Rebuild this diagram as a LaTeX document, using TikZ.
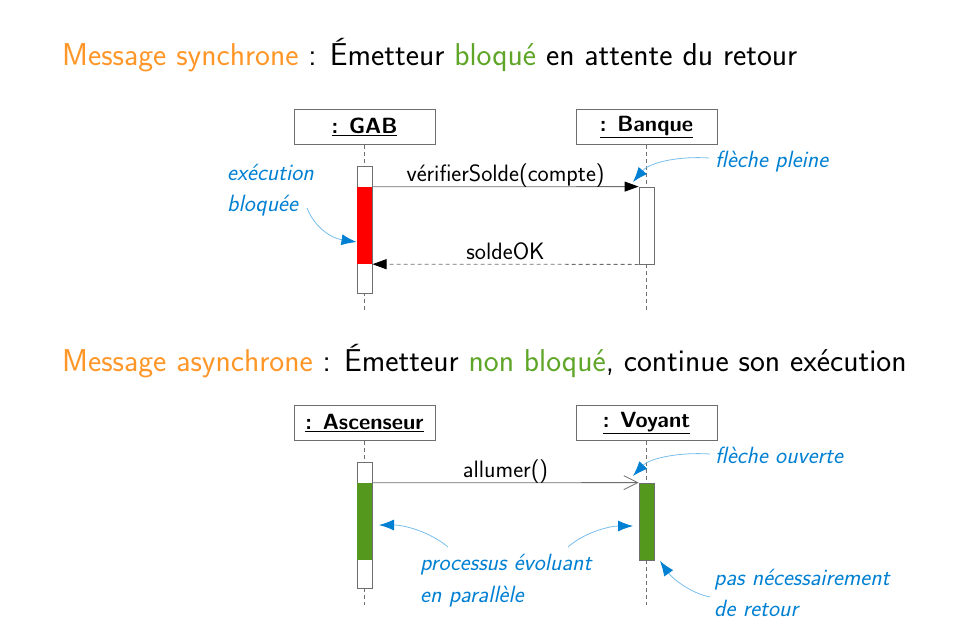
\documentclass[tikz,border=0pt]{standalone}
\usepackage{fontspec}
\usetikzlibrary{arrows.meta}
\definecolor{ttorange}{RGB}{255,150,40}
\definecolor{ttgreen}{RGB}{95,165,40}
\definecolor{actgreen}{RGB}{85,152,30}
\definecolor{noteblue}{RGB}{0,128,210}
\definecolor{linkblue}{RGB}{120,190,235}
\definecolor{boxgray}{RGB}{110,110,110}
\begin{document}
\begin{tikzpicture}[x=1pt,y=-1pt,
  every node/.style={inner sep=0pt},
  obj/.style={draw=boxgray, fill=white, line width=0.8pt, minimum width=141pt, minimum height=35pt,
    font=\fontsize{22}{26}\selectfont\sffamily\bfseries},
  act/.style={draw=boxgray, fill=white, line width=0.8pt, minimum width=15pt},
  life/.style={draw=boxgray, dashed, line width=0.7pt, dash pattern=on 4pt off 3pt},
  msg/.style={draw=boxgray, line width=0.8pt},
  lbl/.style={font=\fontsize{23.7}{28}\selectfont\sffamily, anchor=base, yshift=5pt},
  ttl/.style={font=\fontsize{31.6}{36}\selectfont\sffamily, anchor=base west},
  note/.style={font=\fontsize{23.5}{28}\selectfont\sffamily\itshape, text=noteblue, anchor=base west},
  pointer/.style={draw=linkblue, line width=0.8pt, -{Latex[length=15pt,width=11pt,color=noteblue]}}
]
\useasboundingbox (0,0) rectangle (953,640);

% ---------- Titles ----------
\node[ttl] (t1) at (62,65) {\textcolor{ttorange}{Message synchrone} : Émetteur \textcolor{ttgreen}{bloqué} en attente du retour};
\node[ttl] (t2) at (62,371) {\textcolor{ttorange}{Message asynchrone} : Émetteur \textcolor{ttgreen}{non bloqué}, continue son exécution};

% ---------- Synchronous ----------
\node[obj] (gab) at (364.5,127) {\underline{: GAB}};
\node[obj] (bq) at (646.5,127) {\underline{: Banque}};
\coordinate (gabend) at (364.5,310);
\coordinate (bqend) at (646.5,310);
\draw[life] (gab.south) -- (gabend);
\draw[life] (bq.south) -- (bqend);

\node[act, minimum height=127pt] (gabact) at (364.5,229.5) {};
\node[fill=red, minimum width=15.6pt, minimum height=77pt] (gabblk) at (364.5,225.5) {};
\node[act, minimum height=77pt] (bqact) at (646.5,225.5) {};

\draw[msg, -{Triangle[length=14pt,width=10pt,color=black]}] (gabblk.north east) -- node[lbl, midway] {vérifierSolde(compte)} (bqact.north west);
\draw[msg, dashed, dash pattern=on 4pt off 3pt, -{Triangle[length=14pt,width=10pt,color=black]}] (bqact.south west) -- node[lbl, midway] {soldeOK} (gabblk.south east);

\node[note] (n1a) at (227,180) {exécution};
\node[note] (n1b) at (227,211) {bloquée};
\coordinate (n1s) at (307,208);
\draw[pointer] (n1s) .. controls (314,226) and (330,238) .. (gabblk.west |- 0,242);

\node[note] (n2) at (715,167) {flèche pleine};
\coordinate (n2s) at (709,158);
\draw[pointer] (n2s) .. controls (680,156) and (650,162) .. (633,182);

% ---------- Asynchronous ----------
\node[obj] (asc) at (364.5,423) {\underline{: Ascenseur}};
\node[obj] (voy) at (646.5,423) {\underline{: Voyant}};
\coordinate (ascend) at (364.5,605);
\coordinate (voyend) at (646.5,605);
\draw[life] (asc.south) -- (ascend);
\draw[life] (voy.south) -- (voyend);

\node[act, minimum height=126pt] (ascact) at (364.5,525) {};
\node[fill=actgreen, minimum width=15.6pt, minimum height=77pt] (ascrun) at (364.5,521.5) {};
\node[act, fill=actgreen, minimum height=77pt] (voyact) at (646.5,521.5) {};

\draw[msg, -{Straight Barb[length=14pt,width=14pt,line width=0.8pt]}] (ascrun.north east) -- node[lbl, midway] {allumer()} (voyact.north west);

\node[note] (n3) at (715,463) {flèche ouverte};
\coordinate (n3s) at (710,454);
\draw[pointer] (n3s) .. controls (680,452) and (650,458) .. (633,476);

\node[note] (n4a) at (420,570) {processus évoluant};
\node[note] (n4b) at (420,602) {en parallèle};
\coordinate (n4l) at (448,547);
\coordinate (n4r) at (568,547);
\draw[pointer] (n4l) .. controls (430,532) and (405,525) .. (379,525);
\draw[pointer] (n4r) .. controls (585,532) and (610,526) .. (633,526);

\node[note] (n5a) at (714,585) {pas nécessairement};
\node[note] (n5b) at (714,616) {de retour};
\coordinate (n5s) at (710,597);
\draw[pointer] (n5s) .. controls (690,593) and (672,578) .. (660,561);
\end{tikzpicture}
\end{document}
